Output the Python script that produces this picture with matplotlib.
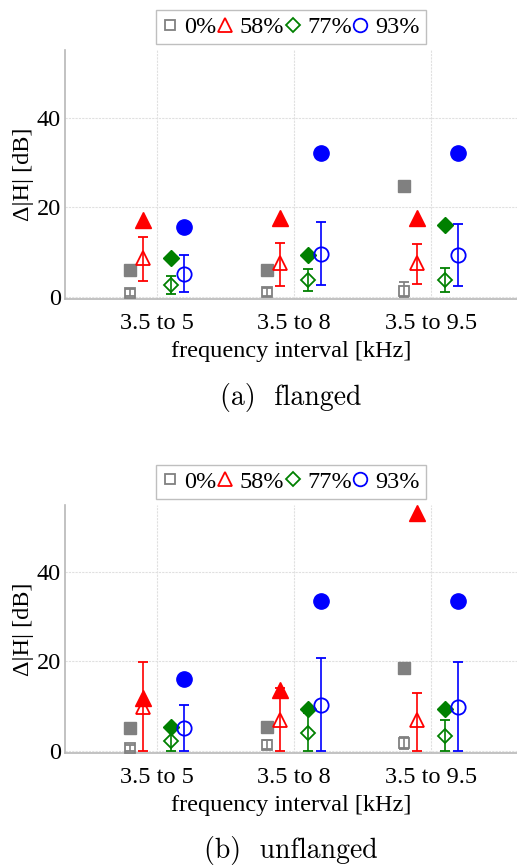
import matplotlib.pyplot as plt
from matplotlib.lines import Line2D
import numpy as np

# x categories
groups = ["3.5 to 5", "3.5 to 8", "3.5 to 9.5"]
series = ["0%", "58%", "77%", "93%"]

# (a) flanged
flanged_filled_0 = [6.0, 6.0, 24.7]
flanged_filled_58 = [17.1, 17.6, 17.6]
flanged_filled_77 = [8.6, 9.3, 16.0]
flanged_filled_93 = [15.5, 32.2, 32.2]
flanged_open_0 = [0.8, 1.0, 1.4]
flanged_open_58 = [8.6, 7.5, 7.5]
flanged_open_77 = [2.7, 3.8, 3.8]
flanged_open_93 = [5.1, 9.6, 9.3]
flanged_lo_0 = [0.1, 0.2, 0.0]
flanged_hi_0 = [1.8, 1.9, 3.4]
flanged_lo_58 = [3.6, 2.5, 2.9]
flanged_hi_58 = [13.4, 12.1, 11.8]
flanged_lo_77 = [0.6, 1.3, 1.0]
flanged_hi_77 = [4.7, 6.3, 6.5]
flanged_lo_93 = [1.0, 2.7, 2.5]
flanged_hi_93 = [9.3, 16.6, 16.2]

# (b) unflanged
unflanged_filled_0 = [5.1, 5.4, 18.5]
unflanged_filled_58 = [11.8, 13.5, 53.2]
unflanged_filled_77 = [5.4, 9.3, 9.3]
unflanged_filled_93 = [16.0, 33.6, 33.6]
unflanged_open_0 = [0.6, 1.3, 1.7]
unflanged_open_58 = [9.9, 6.8, 6.8]
unflanged_open_77 = [2.2, 4.0, 3.4]
unflanged_open_93 = [5.1, 10.3, 9.9]
unflanged_lo_0 = [0.0, 0.3, 0.3]
unflanged_hi_0 = [1.4, 2.3, 3.1]
unflanged_lo_58 = [0.0, 0.0, 0.0]
unflanged_hi_58 = [19.9, 14.0, 12.9]
unflanged_lo_77 = [0.0, 0.0, 0.0]
unflanged_hi_77 = [5.0, 8.5, 6.8]
unflanged_lo_93 = [0.0, 0.0, 0.0]
unflanged_hi_93 = [10.3, 20.7, 19.9]

colors = ["#808080", "#ff0000", "#008000", "#0000ff"]
markers = ["s", "^", "D", "o"]
offsets = [-0.2, -0.1, 0.1, 0.2]
filled_ms = [9.0, 12.0, 8.3, 11.0]
open_ms = [7.2, 10.5, 7.0, 10.3]

plt.rcParams["font.family"] = ["Liberation Serif", "DejaVu Serif"]
plt.rcParams["font.size"] = 17.5

fig = plt.figure(figsize=(5.17, 8.67), dpi=100)


def panel(ax, filled, opn, lo, hi, caption):
    x = np.arange(1, len(groups) + 1)
    for i in range(len(series)):
        xi = x + offsets[i]
        ax.plot(xi, filled[i], linestyle="none", marker=markers[i],
                ms=filled_ms[i], color=colors[i], mec=colors[i], zorder=3)
        m = np.array(opn[i])
        yerr = [m - np.array(lo[i]), np.array(hi[i]) - m]
        ax.errorbar(xi, m, yerr=yerr, linestyle="none", marker=markers[i],
                    ms=open_ms[i], mfc="none", mec=colors[i], mew=1.3,
                    ecolor=colors[i], elinewidth=1.2, capsize=3.5,
                    capthick=1.2, zorder=4)
    ax.set_xlim(0.328, 3.628)
    ax.set_ylim(-0.5, 55)
    ax.set_xticks(x)
    ax.set_xticklabels(groups)
    ax.set_yticks([0, 20, 40])
    ax.tick_params(axis="x", length=0, pad=10)
    ax.tick_params(axis="y", length=0, pad=3)
    ax.grid(True, color="#e0e0e0", linestyle=(0, (2, 1)), linewidth=0.8)
    ax.set_axisbelow(True)
    for s in ["top", "right"]:
        ax.spines[s].set_visible(False)
    for s in ["left", "bottom"]:
        ax.spines[s].set_color("#b8b8b8")
        ax.spines[s].set_linewidth(1.2)
    ax.set_xlabel("frequency interval [kHz]", labelpad=5)
    ax.set_ylabel("Δ|H| [dB]", labelpad=2)
    handles = [Line2D([], [], linestyle="none", marker=markers[i],
                      ms=open_ms[i] * 0.95, mfc="none", mec=colors[i], mew=1.3)
               for i in range(len(series))]
    leg = ax.legend(handles, series, loc="lower center", ncol=4,
                    bbox_to_anchor=(0.5, 1.024), frameon=True, fancybox=False,
                    edgecolor="#b0b0b0", handlelength=0.6, handletextpad=0.3,
                    columnspacing=0.05, borderpad=0.25, borderaxespad=0)
    leg.get_frame().set_linewidth(1.0)
    ax.text(0.5, -0.395, caption, transform=ax.transAxes, ha="center",
            va="center", fontsize=20, fontfamily="cmr10")


ax1 = fig.add_axes([0.1257, 0.655, 0.8743, 0.287])
panel(ax1,
      [flanged_filled_0, flanged_filled_58, flanged_filled_77, flanged_filled_93],
      [flanged_open_0, flanged_open_58, flanged_open_77, flanged_open_93],
      [flanged_lo_0, flanged_lo_58, flanged_lo_77, flanged_lo_93],
      [flanged_hi_0, flanged_hi_58, flanged_hi_77, flanged_hi_93],
      "(a)  flanged")

ax2 = fig.add_axes([0.1257, 0.1315, 0.8743, 0.286])
panel(ax2,
      [unflanged_filled_0, unflanged_filled_58, unflanged_filled_77, unflanged_filled_93],
      [unflanged_open_0, unflanged_open_58, unflanged_open_77, unflanged_open_93],
      [unflanged_lo_0, unflanged_lo_58, unflanged_lo_77, unflanged_lo_93],
      [unflanged_hi_0, unflanged_hi_58, unflanged_hi_77, unflanged_hi_93],
      "(b)  unflanged")

fig.savefig("out.png", dpi=100)
